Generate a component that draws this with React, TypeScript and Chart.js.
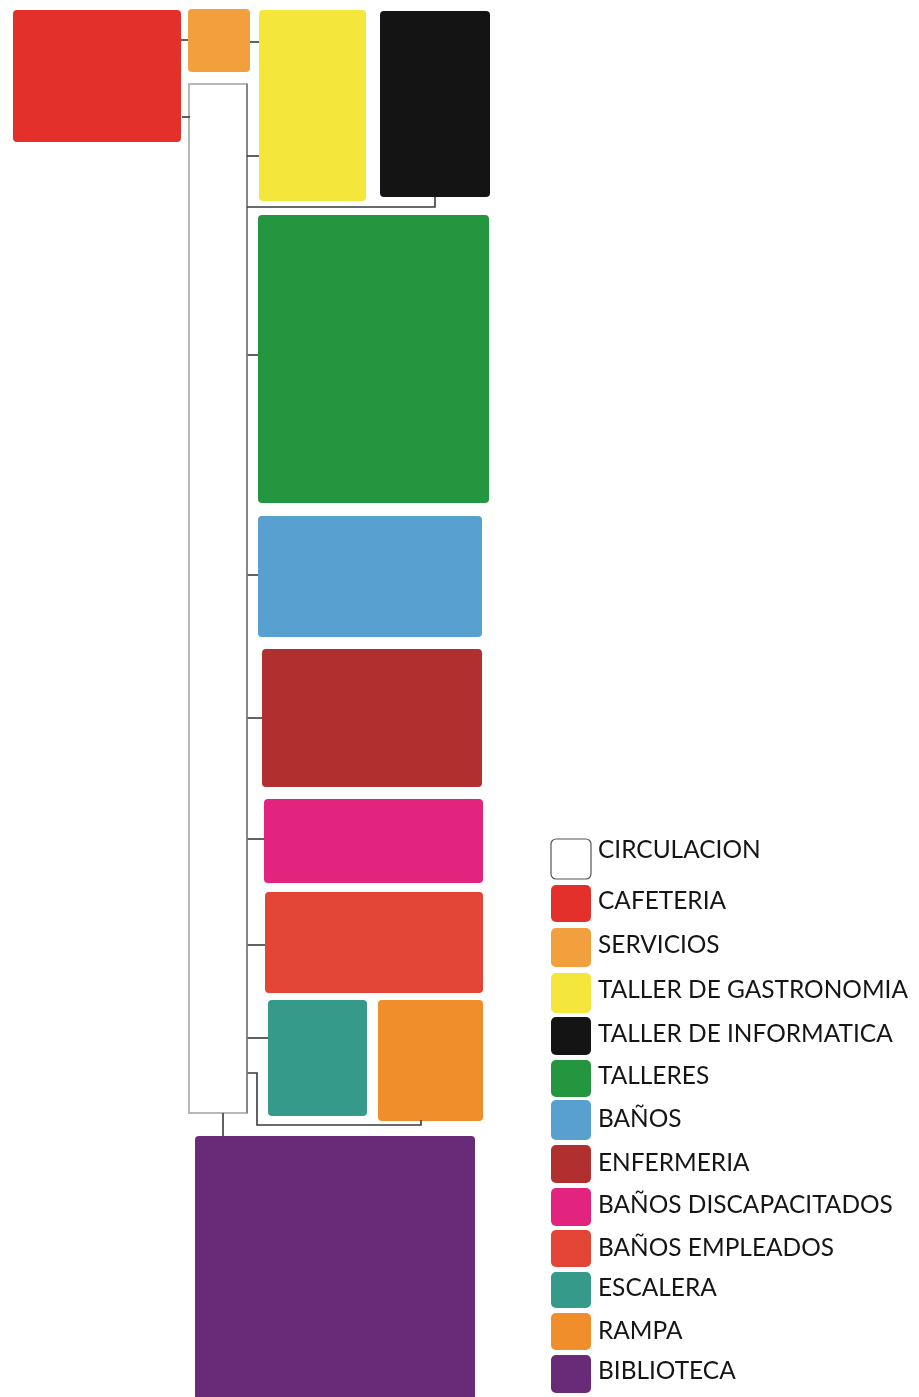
import React, { useEffect, useRef } from "react";
import { Chart, registerables } from "chart.js";

Chart.register(...registerables);

// Rooms (diagram units = reference pixels)
const roomNames = [
  "CIRCULACION", "CAFETERIA", "SERVICIOS", "TALLER DE GASTRONOMIA", "TALLER DE INFORMATICA",
  "TALLERES", "BAÑOS", "ENFERMERIA", "BAÑOS DISCAPACITADOS", "BAÑOS EMPLEADOS",
  "ESCALERA", "RAMPA", "BIBLIOTECA",
];
const roomColors = [
  "#FFFFFF", "#E3302A", "#F2A03D", "#F4E63A", "#151414",
  "#23963F", "#58A0D0", "#B22F30", "#E3247E", "#E24436",
  "#359A8A", "#F08E2B", "#692A77",
];
const roomX0 = [189, 13, 188, 259, 380, 258, 258, 262, 264, 265, 268, 378, 195];
const roomX1 = [247, 181, 250, 366, 490, 489, 482, 482, 483, 483, 367, 483, 475];
const roomY0 = [84, 10, 9, 10, 11, 215, 516, 649, 799, 892, 1000, 1000, 1136];
const roomY1 = [1113, 142, 72, 201, 197, 503, 637, 787, 883, 993, 1116, 1121, 1400];

// Connectors: polylines [x, y, x, y, ...]
const connectorPaths = [
  [181, 40, 188, 40],
  [182, 117, 190, 117],
  [250, 42, 259, 42],
  [247, 156, 259, 156],
  [247, 207, 435, 207, 435, 197],
  [247, 84, 247, 1113],
  [247, 355, 258, 355],
  [247, 575, 258, 575],
  [247, 718, 262, 718],
  [247, 839, 264, 839],
  [247, 945, 265, 945],
  [247, 1038, 268, 1038],
  [247, 1073, 257, 1073, 257, 1125, 421, 1125, 421, 1120],
  [223, 1113, 223, 1136],
];

// Legend
const legendTextY = [849, 900, 944, 989, 1033, 1075, 1118, 1162, 1204, 1247, 1287, 1330, 1370];
const legendSwatchTop = [839, 885, 928, 973, 1017, 1060, 1100, 1145, 1188, 1230, 1272, 1313, 1355];
const legendSwatchBottom = [879, 922, 967, 1013, 1055, 1097, 1140, 1183, 1226, 1267, 1308, 1350, 1393];
const legendSwatchX = [551, 591];
const legendTextX = 598;
const legendWidestText = 310; // width of "TALLER DE GASTRONOMIA"

const W = 919;
const H = 1397;

const roomsPlugin = {
  id: "rooms",
  beforeDatasetsDraw(chart: any) {
    const ctx = chart.ctx;
    const xs = chart.scales.x;
    const ys = chart.scales.y;
    ctx.save();
    for (let i = 0; i < roomNames.length; i++) {
      const x0 = xs.getPixelForValue(roomX0[i]);
      const x1 = xs.getPixelForValue(roomX1[i]);
      const y0 = ys.getPixelForValue(roomY0[i]);
      const y1 = ys.getPixelForValue(roomY1[i]);
      ctx.beginPath();
      if (i === 0) {
        ctx.rect(x0, y0, x1 - x0, y1 - y0);
        ctx.fillStyle = "#FFFFFF";
        ctx.fill();
        ctx.strokeStyle = "#B8B8B8";
        ctx.lineWidth = 2;
        ctx.stroke();
      } else {
        (ctx as any).roundRect(x0, y0, x1 - x0, y1 - y0, 4);
        ctx.fillStyle = roomColors[i];
        ctx.fill();
      }
    }
    // legend
    ctx.font = "25px Lato, 'Open Sans', sans-serif";
    const sx =
      (xs.getPixelForValue(legendTextX + legendWidestText) - xs.getPixelForValue(legendTextX)) /
      ctx.measureText("TALLER DE GASTRONOMIA").width;
    for (let i = 0; i < roomNames.length; i++) {
      const x0 = xs.getPixelForValue(legendSwatchX[0]);
      const x1 = xs.getPixelForValue(legendSwatchX[1]);
      const y0 = ys.getPixelForValue(legendSwatchTop[i]);
      const y1 = ys.getPixelForValue(legendSwatchBottom[i]);
      ctx.beginPath();
      (ctx as any).roundRect(x0, y0, x1 - x0, y1 - y0, 5);
      ctx.fillStyle = roomColors[i];
      ctx.fill();
      if (i === 0) {
        ctx.strokeStyle = "#555555";
        ctx.lineWidth = 1.2;
        ctx.stroke();
      }
      ctx.fillStyle = "#151515";
      ctx.textBaseline = "middle";
      ctx.textAlign = "left";
      const tx = xs.getPixelForValue(legendTextX);
      const ty = ys.getPixelForValue(legendTextY[i]);
      ctx.save();
      ctx.translate(tx, ty);
      ctx.scale(sx, 1);
      ctx.fillText(roomNames[i], 0, 1);
      ctx.restore();
    }
    ctx.restore();
  },
};

export default function App() {
  const ref = useRef<HTMLCanvasElement | null>(null);
  useEffect(() => {
    document.body.style.margin = "0";
    const canvas = ref.current!;
    const datasets = connectorPaths.map((p, k) => {
      const pts: { x: number; y: number }[] = [];
      for (let j = 0; j < p.length; j += 2) pts.push({ x: p[j], y: p[j + 1] });
      const isBus = k === 5;
      return {
        data: pts,
        showLine: true,
        pointRadius: 0,
        borderColor: isBus ? "#7A7A7A" : "#3A3A3A",
        borderWidth: 1.6,
        fill: false,
        tension: 0,
      };
    });
    const chart = new Chart(canvas, {
      type: "scatter",
      data: { datasets },
      options: {
        animation: false,
        responsive: false,
        maintainAspectRatio: false,
        layout: { padding: 0 },
        plugins: { legend: { display: false }, tooltip: { enabled: false } },
        scales: {
          x: { type: "linear", min: 0, max: W, display: false },
          y: { type: "linear", min: 0, max: H, reverse: true, display: false },
        },
      },
      plugins: [roomsPlugin],
    });
    return () => chart.destroy();
  }, []);
  return (
    <div style={{ width: W, height: H, background: "#FFFFFF" }}>
      <canvas ref={ref} width={W} height={H} style={{ display: "block", width: W, height: H }} />
    </div>
  );
}
